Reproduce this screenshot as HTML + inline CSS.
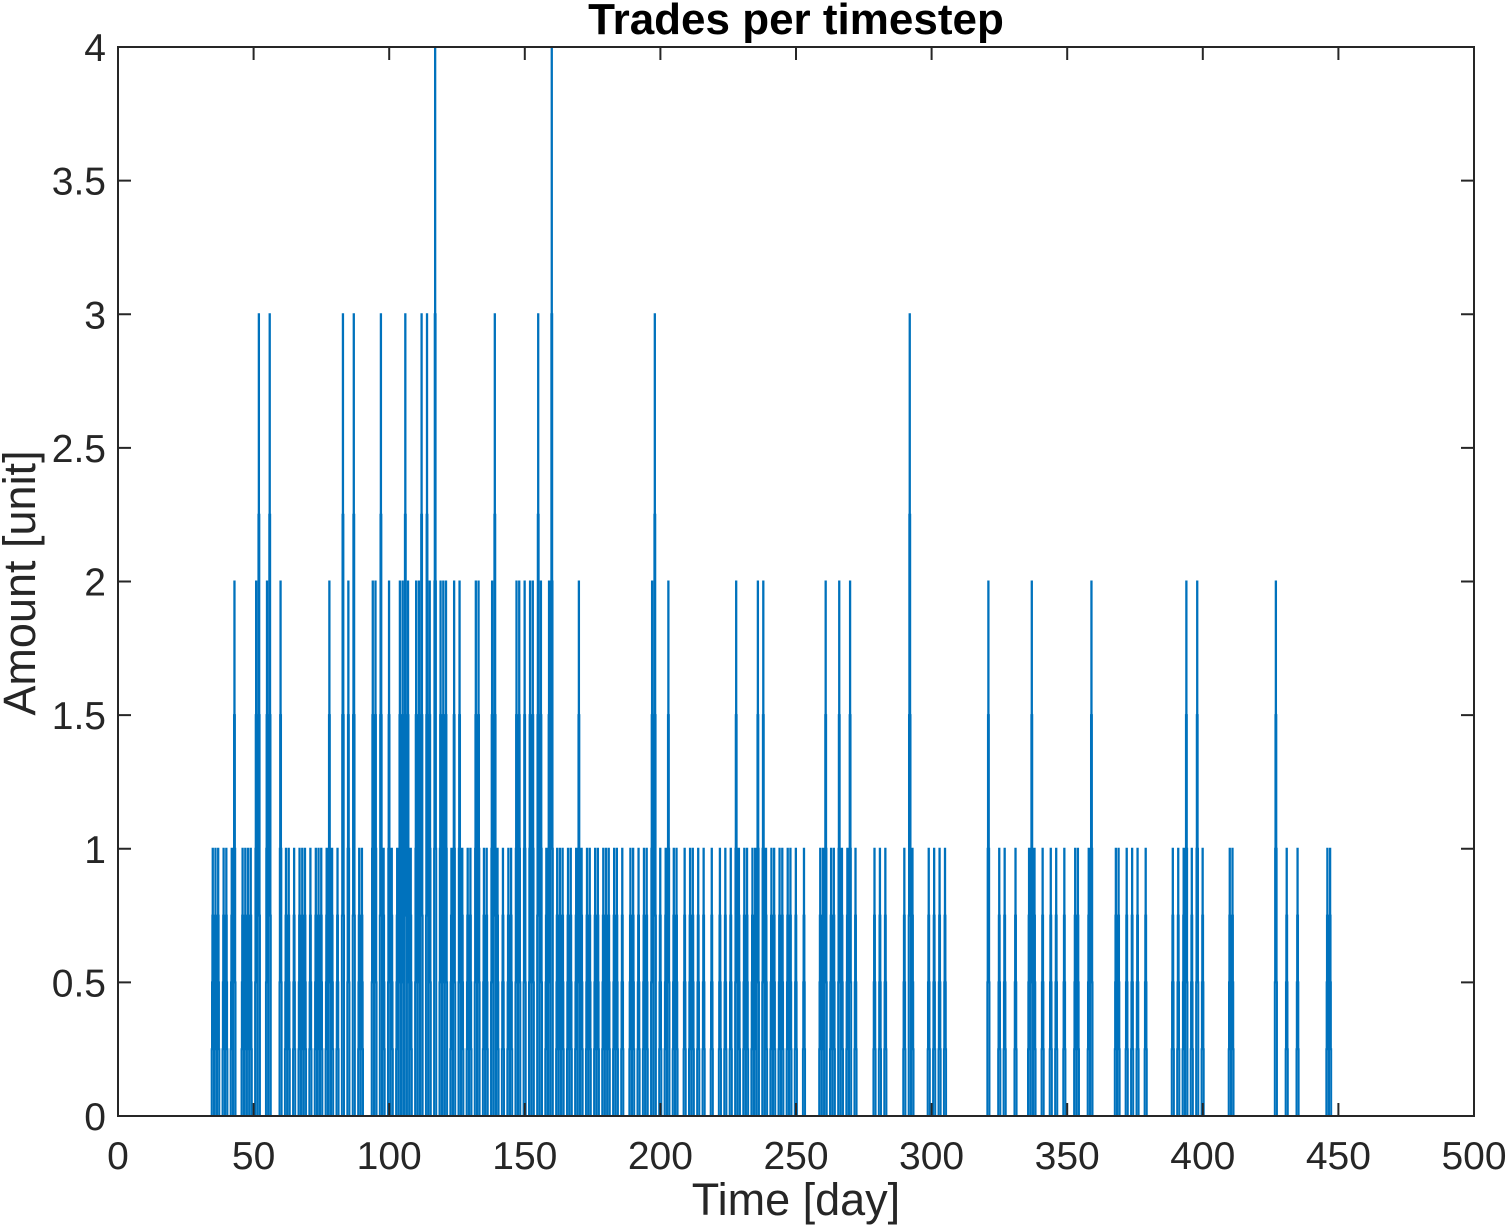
<!DOCTYPE html>
<html><head><meta charset="utf-8"><style>
body{margin:0;background:#fff;}
svg{display:block;font-family:"Liberation Sans",Arial,sans-serif;}
</style></head><body>
<svg id="chart" width="1509" height="1227" viewBox="0 0 1509 1227" xmlns="http://www.w3.org/2000/svg">
<rect x="0" y="0" width="1509" height="1227" fill="#fff"/>
<text x="796" y="34" text-anchor="middle" font-size="44" font-weight="bold" fill="#000">Trades per timestep</text>
<g id="series"></g>
<g id="axes"></g>
<text x="796" y="1215" text-anchor="middle" font-size="45" fill="#262626">Time [day]</text>
<text transform="translate(35,583) rotate(-90)" text-anchor="middle" font-size="45" fill="#262626">Amount [unit]</text>
</svg>
<script>
const spikeDays=[35,36,37,39,40,42,43,46,47,48,49,51,52,55,56,60,62,63,65,67,68,69,71,73,74,75,77,78,79,81,83,85,87,89,90,94,95,97,98,100,101,103,104,105,106,107,108,110,111,112,114,115,117,119,120,121,123,124,126,127,129,130,132,133,135,136,138,139,140,142,144,145,147,148,150,152,153,155,156,158,159,160,162,163,164,166,167,169,170,171,173,174,176,177,179,180,181,183,184,186,189,190,192,194,195,197,198,200,202,203,205,206,209,211,212,214,216,219,222,224,226,228,229,231,232,234,235,236,238,239,241,242,244,245,247,248,250,253,259,260,261,263,264,266,267,269,270,272,279,281,283,290,292,293,299,301,303,305,321,325,327,331,336,337,338,341,344,346,349,353,354,358,359,368,369,372,374,376,379,389,391,393,394,396,398,400,410,411,427,431,435,446,447];
const spikeVals=[1,1,1,1,1,1,2,1,1,1,1,2,3,2,3,2,1,1,1,1,1,1,1,1,1,1,1,2,1,1,3,2,3,1,1,2,2,3,1,2,1,1,2,2,3,2,1,2,2,3,3,2,4,2,2,2,1,2,2,1,1,1,2,2,1,1,2,3,1,1,1,1,2,2,2,2,2,3,2,1,2,4,1,1,1,1,1,1,2,1,1,1,1,1,1,1,1,1,1,1,1,1,1,1,1,2,3,1,1,2,1,1,1,1,1,1,1,1,1,1,1,2,1,1,1,1,1,2,2,1,1,1,1,1,1,1,1,1,1,1,2,1,1,2,1,1,2,1,1,1,1,1,3,1,1,1,1,1,2,1,1,1,1,2,1,1,1,1,1,1,1,1,2,1,1,1,1,1,1,1,1,1,2,1,2,1,1,1,2,1,1,1,1];
const xTicks=[0,50,100,150,200,250,300,350,400,450,500];
const yTicks=[0,0.5,1,1.5,2,2.5,3,3.5,4];
const L=118,R=1474,T=47,B=1116;
const xs=d=>L+(d/500)*(R-L);
const ys=v=>B-(v/4)*(B-T);
const NS="http://www.w3.org/2000/svg";
const STEPS=4;
let p="M"+xs(0)+","+ys(0);
spikeDays.forEach((d,i)=>{
  const v=spikeVals[i];
  let x0=d-0.45;
  p+=" L"+xs(x0)+","+ys(0);
  for(let k=1;k<=STEPS;k++){const xx=x0+0.45*k/STEPS;p+=" L"+xs(xx-0.45/STEPS)+","+ys(v*k/STEPS)+" L"+xs(xx)+","+ys(v*k/STEPS);}
  for(let k=STEPS-1;k>=0;k--){const xx=d+0.45*(STEPS-k)/STEPS;p+=" L"+xs(xx-0.45/STEPS)+","+ys(v*k/STEPS)+" L"+xs(xx)+","+ys(v*k/STEPS);}
});
p+=" L"+xs(500)+","+ys(0);
const series=document.getElementById('series');
const path=document.createElementNS(NS,'path');


path.setAttribute('d',p);path.setAttribute('fill','none');path.setAttribute('stroke','#0072BD');path.setAttribute('stroke-width','2');
series.appendChild(path);
const zero=document.createElementNS(NS,'line');


zero.setAttribute('x1',xs(0));zero.setAttribute('x2',xs(500));zero.setAttribute('y1',ys(0));zero.setAttribute('y2',ys(0));
zero.setAttribute('stroke','#EDB120');zero.setAttribute('stroke-width','2');
series.appendChild(zero);
const axes=document.getElementById('axes');
const box=document.createElementNS(NS,'rect');


box.setAttribute('x',L);box.setAttribute('y',T);box.setAttribute('width',R-L);box.setAttribute('height',B-T);
box.setAttribute('fill','none');box.setAttribute('stroke','#262626');box.setAttribute('stroke-width','2');
axes.appendChild(box);
xTicks.forEach(t=>{
  const x=xs(t);
  [[B,B-13],[T,T+13]].forEach(([a,b])=>{const l=document.createElementNS(NS,'line');
    
    
    l.setAttribute('x1',x);l.setAttribute('x2',x);l.setAttribute('y1',a);l.setAttribute('y2',b);l.setAttribute('stroke','#262626');l.setAttribute('stroke-width','2');axes.appendChild(l);});
  const tx=document.createElementNS(NS,'text');
  
  
  tx.setAttribute('x',x);tx.setAttribute('y',1169);tx.setAttribute('text-anchor','middle');tx.setAttribute('font-size','39');tx.setAttribute('fill','#262626');
  tx.textContent=t;axes.appendChild(tx);
});
yTicks.forEach(t=>{
  const y=ys(t);
  [[L,L+13],[R,R-13]].forEach(([a,b])=>{const l=document.createElementNS(NS,'line');
    
    
    l.setAttribute('x1',a);l.setAttribute('x2',b);l.setAttribute('y1',y);l.setAttribute('y2',y);l.setAttribute('stroke','#262626');l.setAttribute('stroke-width','2');axes.appendChild(l);});
  const tx=document.createElementNS(NS,'text');
  
  
  tx.setAttribute('x',106);tx.setAttribute('y',y+14);tx.setAttribute('text-anchor','end');tx.setAttribute('font-size','39');tx.setAttribute('fill','#262626');
  tx.textContent=t;axes.appendChild(tx);
});
</script>
</body></html>
